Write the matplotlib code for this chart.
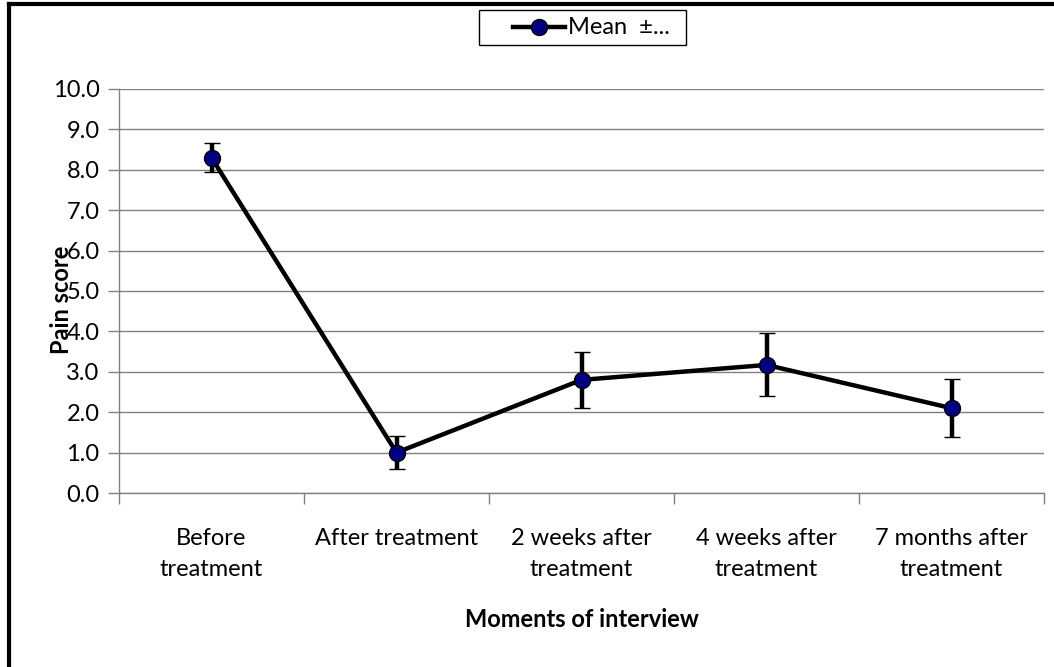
import matplotlib.pyplot as plt
from matplotlib.lines import Line2D
from matplotlib.patches import Rectangle
import numpy as np

plt.rcParams['font.family'] = ['Lato', 'DejaVu Sans']

# data
moments = ['Before\ntreatment', 'After treatment', '2 weeks after\ntreatment',
           '4 weeks after\ntreatment', '7 months after\ntreatment']
mean_score = [8.3, 1.0, 2.8, 3.17, 2.1]
err_score = [0.36, 0.4, 0.7, 0.78, 0.71]
y_ticks = [0, 1, 2, 3, 4, 5, 6, 7, 8, 9, 10]
series_name = 'Mean  \u00b1...'

fs = 17
W, H = 1054, 667

fig = plt.figure(figsize=(W / 100, H / 100), dpi=100)
ax = fig.add_axes([119 / W, 1 - 493 / H, 925 / W, 404 / H])

x = np.arange(len(moments))
ax.errorbar(x, mean_score, yerr=err_score, color='k', lw=3.2,
            marker='o', markersize=11.5, markerfacecolor='#000080',
            markeredgecolor='k', markeredgewidth=1,
            ecolor='k', elinewidth=3.2, capsize=6, capthick=3.2, zorder=3)

ax.set_xlim(-0.5, len(moments) - 0.5)
ax.set_ylim(0, 10)
ax.set_yticks(y_ticks)
ax.set_yticklabels(['%.1f' % v for v in y_ticks])
ax.set_xticks(x)
ax.set_xticklabels(moments, linespacing=1.6)
ax.set_xticks(np.arange(-0.5, len(moments)), minor=True)
ax.tick_params(axis='x', which='major', length=0, pad=25, labelsize=fs)
ax.tick_params(axis='x', which='minor', length=8, width=1, color='#808080', direction='out')
ax.tick_params(axis='y', length=8, width=1, color='#808080', direction='out', pad=6, labelsize=fs)

ax.yaxis.grid(True, color='#808080', lw=1)
ax.set_axisbelow(True)
for s in ['top', 'right']:
    ax.spines[s].set_visible(False)
for s in ['left', 'bottom']:
    ax.spines[s].set_color('#808080')
    ax.spines[s].set_linewidth(1)

ax.set_xlabel('Moments of interview', fontsize=fs, fontweight='bold', labelpad=20)
fig.text(0.058, 0.55, 'Pain score', rotation=90, fontsize=fs, fontweight='bold',
         ha='center', va='center')

# legend box drawn like the Excel one (handle sits away from the left edge)
fig.add_artist(Rectangle((479 / W, 1 - 45 / H), 207 / W, 35 / H, facecolor='white',
                         edgecolor='k', lw=1, transform=fig.transFigure))
fig.add_artist(Line2D([513 / W, 565 / W], [1 - 27 / H, 1 - 27 / H], color='k', lw=3.2,
                      transform=fig.transFigure))
fig.add_artist(Line2D([539 / W], [1 - 27 / H], marker='o', markersize=11.5,
                      markerfacecolor='#000080', markeredgecolor='k', markeredgewidth=1,
                      transform=fig.transFigure))
fig.text(568 / W, 1 - 27 / H, series_name, fontsize=fs, ha='left', va='center')

# outer frame of the figure
fig.add_artist(Line2D([9 / W, 9 / W], [0, 1 - 4 / H], color='k', lw=3,
                      transform=fig.transFigure))
fig.add_artist(Line2D([9 / W, 1], [1 - 4 / H, 1 - 4 / H], color='k', lw=3,
                      transform=fig.transFigure))

fig.savefig('out.png', dpi=100)
